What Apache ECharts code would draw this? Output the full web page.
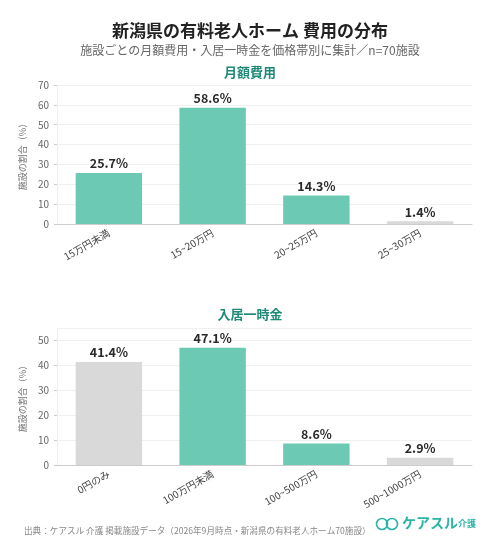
<!DOCTYPE html>
<html><head><meta charset="utf-8">
<script src="https://cdn.jsdelivr.net/npm/echarts@6/dist/echarts.min.js"></script>
<style>html,body{margin:0;padding:0;background:#fff}#c{width:500px;height:558px}</style>
</head><body><div id="c"></div>
<script>
const monthlyCats = ['15万円未満', '15~20万円', '20~25万円', '25~30万円'];
const monthlyVals = [25.7, 58.6, 14.3, 1.4];
const monthlyGray = [false, false, false, true];
const entryCats = ['0円のみ', '100万円未満', '100~500万円', '500~1000万円'];
const entryVals = [41.4, 47.1, 8.6, 2.9];
const entryGray = [true, false, false, true];

const TEAL = '#6cc9b4', GRAY = '#d9d9d9';
const FF = '"Noto Sans CJK JP", "Noto Sans", sans-serif';

function items(vals, gray) {
  return vals.map((v, i) => ({ value: v, itemStyle: { color: gray[i] ? GRAY : TEAL } }));
}
function xAx(cats, gi) {
  return {
    type: 'category', data: cats, gridIndex: gi,
    axisLine: { lineStyle: { color: '#cccccc' } },
    axisTick: { alignWithLabel: true, lineStyle: { color: '#cccccc' }, length: 3 },
    axisLabel: { rotate: 30, fontSize: 10, color: '#444', fontFamily: FF, margin: 8 }
  };
}
function yAx(max, gi) {
  return {
    type: 'value', gridIndex: gi, min: 0, max: max, interval: 10,
    name: '施設の割合（%）', nameLocation: 'middle', nameGap: 24,
    nameTextStyle: { fontSize: 9, color: '#777', fontFamily: FF },
    axisLine: { show: true, lineStyle: { color: '#eeeeee' } },
    axisTick: { show: true, length: 3, lineStyle: { color: '#cccccc' } },
    axisLabel: { fontSize: 10, color: '#666', fontFamily: FF, showMaxLabel: max % 10 === 0,
      formatter: v => (v % 10 === 0 ? String(v) : '') },
    splitLine: { lineStyle: { color: '#f0f0f0' } }
  };
}
const lbl = { show: true, position: 'top', distance: 3, fontSize: 12.5, fontWeight: 'bold', color: '#2a2a2a', fontFamily: FF, formatter: p => p.value.toFixed(1) + '%' };

const chart = echarts.init(document.getElementById('c'), null, { renderer: 'canvas' });
chart.setOption({
  backgroundColor: '#fff',
  animation: false,
  title: [
    { text: '新潟県の有料老人ホーム 費用の分布', left: 'center', top: 17,
      textStyle: { fontSize: 17, fontWeight: 'bold', color: '#222', fontFamily: FF } },
    { text: '施設ごとの月額費用・入居一時金を価格帯別に集計／n=70施設', left: 'center', top: 39,
      textStyle: { fontSize: 12, fontWeight: 'normal', color: '#666', fontFamily: FF } },
    { text: '月額費用', left: 'center', top: 61,
      textStyle: { fontSize: 13, fontWeight: 'bold', color: '#1f8a78', fontFamily: FF } },
    { text: '入居一時金', left: 'center', top: 303,
      textStyle: { fontSize: 13, fontWeight: 'bold', color: '#1f8a78', fontFamily: FF } },
    { text: '出典：ケアスル 介護 掲載施設データ（2026年9月時点・新潟県の有料老人ホーム70施設）', left: 19, top: 521,
      textStyle: { fontSize: 8.6, fontWeight: 'normal', color: '#888', fontFamily: FF } }
  ],
  grid: [
    { left: 57, right: 28, top: 85, height: 139 },
    { left: 57, right: 28, top: 328, height: 137 }
  ],
  xAxis: [xAx(monthlyCats, 0), xAx(entryCats, 1)],
  yAxis: [yAx(70, 0), yAx(55, 1)],
  series: [
    { type: 'bar', xAxisIndex: 0, yAxisIndex: 0, data: items(monthlyVals, monthlyGray), barWidth: '64%', label: lbl },
    { type: 'bar', xAxisIndex: 1, yAxisIndex: 1, data: items(entryVals, entryGray), barWidth: '64%', label: lbl }
  ],
  graphic: [
    { type: 'circle', shape: { cx: 382, cy: 524, r: 5.5 }, style: { fill: 'none', stroke: '#2bb5a6', lineWidth: 1.6 } },
    { type: 'circle', shape: { cx: 392, cy: 524, r: 5.5 }, style: { fill: 'none', stroke: '#2bb5a6', lineWidth: 1.6 } },
    { type: 'text', left: 402, top: 516, style: { text: 'ケアスル', fontSize: 14, fontWeight: 'bold', fill: '#2bb5a6', fontFamily: FF } },
    { type: 'text', left: 458, top: 519, style: { text: '介護', fontSize: 9, fontWeight: 'bold', fill: '#2bb5a6', fontFamily: FF } }
  ]
});
</script></body></html>
